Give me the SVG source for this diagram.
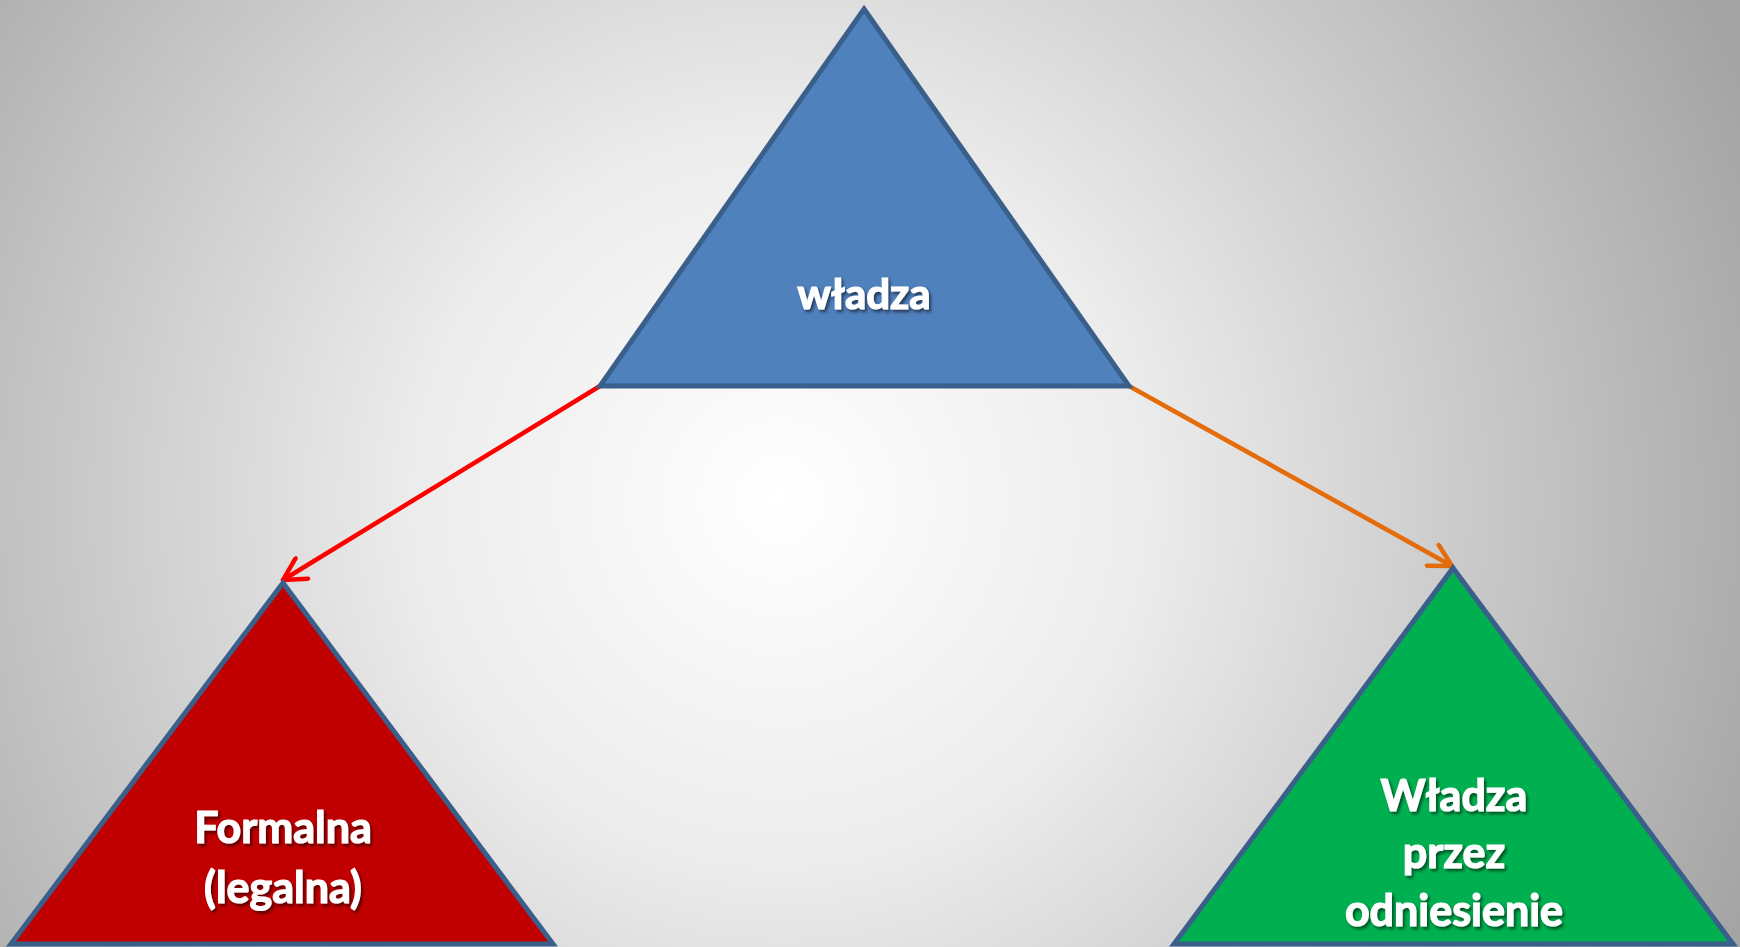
<svg xmlns="http://www.w3.org/2000/svg" width="1740" height="947" viewBox="0 0 1740 947">
<defs>
<radialGradient id="bg" gradientUnits="userSpaceOnUse" cx="780" cy="500" r="1050">
<stop offset="0" stop-color="#ffffff"/>
<stop offset="0.35" stop-color="#ececec"/>
<stop offset="1" stop-color="#a4a4a4"/>
</radialGradient>
<filter id="sh" x="-20%" y="-20%" width="140%" height="160%">
<feDropShadow dx="2" dy="2.5" stdDeviation="1.5" flood-color="#000" flood-opacity="0.55"/>
</filter>
<marker id="arRed" markerUnits="userSpaceOnUse" viewBox="-26 -14 30 28" refX="0" refY="0" markerWidth="30" markerHeight="28" orient="auto">
<path d="M-22,-12 L0,0 L-22,12" fill="none" stroke="#ff0000" stroke-width="4.5" stroke-linecap="round" stroke-linejoin="round"/>
</marker>
<marker id="arOr" markerUnits="userSpaceOnUse" viewBox="-26 -14 30 28" refX="0" refY="0" markerWidth="30" markerHeight="28" orient="auto">
<path d="M-22,-12 L0,0 L-22,12" fill="none" stroke="#e46c0a" stroke-width="4.5" stroke-linecap="round" stroke-linejoin="round"/>
</marker>
</defs>
<style>
.tri{stroke:#3a5f8b;stroke-width:5;stroke-linejoin:miter}
.lbl{font-family:Lato,"Open Sans","Liberation Sans",sans-serif;font-weight:bold;fill:#ffffff;stroke:#ffffff;stroke-width:1.2;text-anchor:middle;filter:url(#sh)}
.conn{fill:none;stroke-width:4.5;stroke-linecap:round}
</style>
<rect x="0" y="0" width="1740" height="947" fill="url(#bg)"/>
<g id="connectors">
<line class="conn" x1="600" y1="386" x2="283" y2="580" stroke="#ff0000" marker-end="url(#arRed)"/>
<line class="conn" x1="1129" y1="386" x2="1452" y2="566" stroke="#e46c0a" marker-end="url(#arOr)"/>
</g>
<g id="node-wladza">
<polygon class="tri" points="864,9 1129,386 600,386" fill="#4f81bd"/>
<text class="lbl" x="864" y="309" font-size="42">władza</text>
</g>
<g id="node-formalna">
<polygon class="tri" points="283,583 553,944 11,944" fill="#c00000"/>
<text class="lbl" x="283" y="843" font-size="43">Formalna</text>
<text class="lbl" x="283" y="903" font-size="43">(legalna)</text>
</g>
<g id="node-odniesienie">
<polygon class="tri" points="1453,568 1733,944 1174,944" fill="#00b050"/>
<text class="lbl" x="1454" y="811" font-size="43">Władza</text>
<text class="lbl" x="1454" y="868" font-size="43">przez</text>
<text class="lbl" x="1454" y="926" font-size="43">odniesienie</text>
</g>
</svg>
